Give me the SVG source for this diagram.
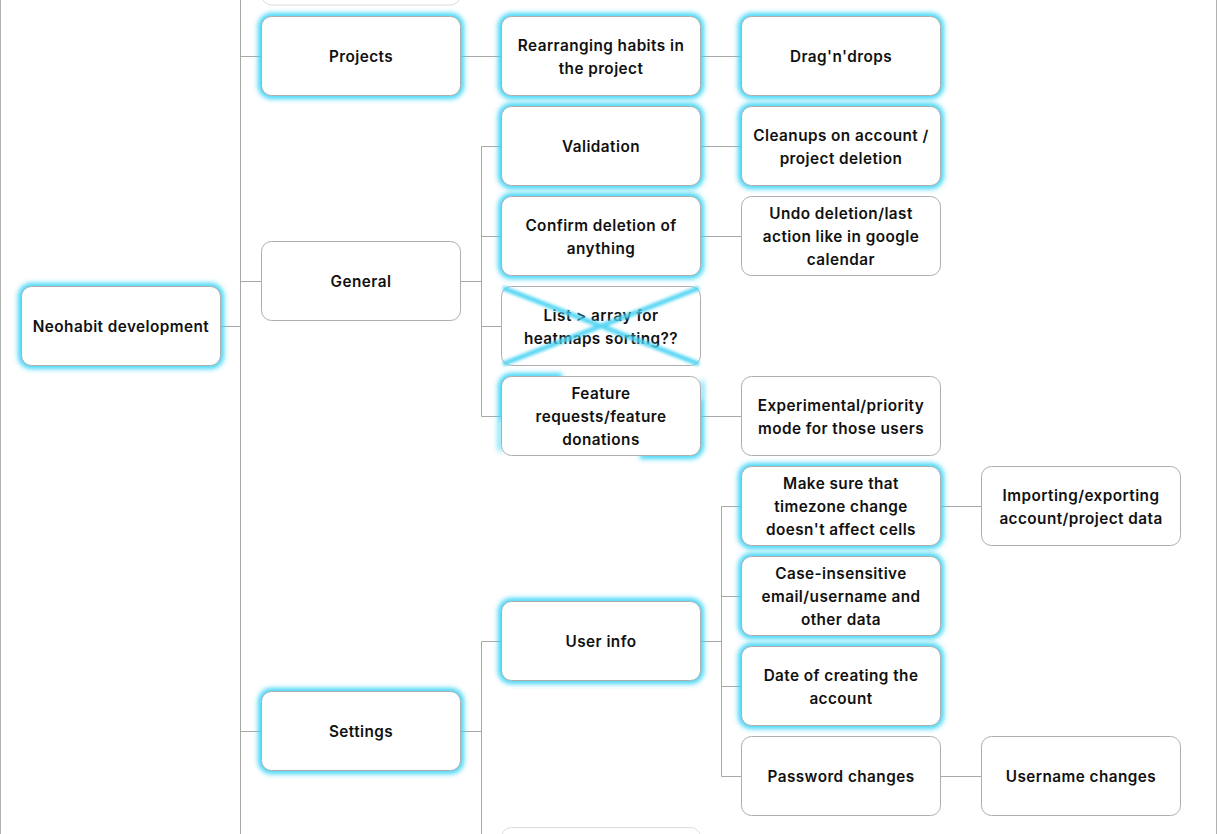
<svg xmlns="http://www.w3.org/2000/svg" width="1218" height="834" viewBox="0 0 1218 834">
<style>
.box{fill:#fff;stroke:#adadad;stroke-width:1}
.glow{fill:none;stroke:#3fd5f6;stroke-width:7;filter:url(#blur)}
.lnk{fill:none;stroke:#a8a8a8;stroke-width:1}
text{font-family:Inter,"Noto Sans","Liberation Sans",sans-serif;font-weight:600;font-size:15.3px;letter-spacing:0.45px;fill:#111;text-anchor:middle}
</style>
<defs>
<filter id="blur" x="-20%" y="-40%" width="140%" height="180%"><feGaussianBlur stdDeviation="2.6"/></filter>
<filter id="blurx" x="-20%" y="-40%" width="140%" height="180%"><feGaussianBlur stdDeviation="1.8"/></filter>
<clipPath id="featClip"><rect x="480" y="360" width="82" height="60"/><rect x="480" y="360" width="21" height="110"/><rect x="640" y="400" width="80" height="70"/><rect x="701" y="360" width="20" height="110"/></clipPath>
</defs>
<rect x="0" y="0" width="1218" height="834" fill="#fff"/>
<line x1="0.5" y1="0" x2="0.5" y2="834" stroke="#b0b0b0"/>
<line x1="1216.5" y1="0" x2="1216.5" y2="834" stroke="#b0b0b0"/>
<g id="connectors">
<path class="lnk" d="M221 326.5H240.5M240.5 0V834M240.5 56.5H261M240.5 281.5H261M240.5 731.5H261"/>
<path class="lnk" d="M461 56.5H501M701 56.5H741"/>
<path class="lnk" d="M461 281.5H481.5M481.5 146.5V416.5M481.5 146.5H501M481.5 236.5H501M481.5 326.5H501M481.5 416.5H501"/>
<path class="lnk" d="M701 146.5H741M701 236.5H741M701 416.5H741"/>
<path class="lnk" d="M461 731.5H481.5M481.5 641.5V834M481.5 641.5H501"/>
<path class="lnk" d="M701 641.5H721.5M721.5 506.5V776.5M721.5 506.5H741M721.5 596.5H741M721.5 686.5H741M721.5 776.5H741"/>
<path class="lnk" d="M941 506.5H981M941 776.5H981"/>
</g>
<g id="top-partial"><rect x="261.5" y="-75" width="199" height="80" rx="10" fill="#fff" stroke="#dcdcdc"/></g>
<g id="root"><rect class="glow" x="21.5" y="286.5" width="199" height="79" rx="10"/><rect class="box" x="21.5" y="286.5" width="199" height="79" rx="10"/><text x="121" y="332">Neohabit development</text></g>
<g id="projects"><rect class="glow" x="261.5" y="16.5" width="199" height="79" rx="10"/><rect class="box" x="261.5" y="16.5" width="199" height="79" rx="10"/><text x="361" y="62">Projects</text></g>
<g id="general"><rect class="box" x="261.5" y="241.5" width="199" height="79" rx="10"/><text x="361" y="287">General</text></g>
<g id="settings"><rect class="glow" x="261.5" y="691.5" width="199" height="79" rx="10"/><rect class="box" x="261.5" y="691.5" width="199" height="79" rx="10"/><text x="361" y="737">Settings</text></g>
<g id="rearranging"><rect class="glow" x="501.5" y="16.5" width="199" height="79" rx="10"/><rect class="box" x="501.5" y="16.5" width="199" height="79" rx="10"/><text x="601" y="50.5">Rearranging habits in</text><text x="601" y="73.5">the project</text></g>
<g id="validation"><rect class="glow" x="501.5" y="106.5" width="199" height="79" rx="10"/><rect class="box" x="501.5" y="106.5" width="199" height="79" rx="10"/><text x="601" y="152">Validation</text></g>
<g id="confirm"><rect class="glow" x="501.5" y="196.5" width="199" height="79" rx="10"/><rect class="box" x="501.5" y="196.5" width="199" height="79" rx="10"/><text x="601" y="230.5">Confirm deletion of</text><text x="601" y="253.5">anything</text></g>
<g id="list"><rect class="box" x="501.5" y="286.5" width="199" height="79" rx="10"/><text x="601" y="320.5">List &gt; array for</text><text x="601" y="343.5">heatmaps sorting??</text><path d="M503 288L699 364M503 364L699 288" stroke="#45d2f3" stroke-width="5" fill="none" filter="url(#blurx)" opacity="0.9"/></g>
<g id="feature"><g filter="url(#blur)"><rect x="501.5" y="376.5" width="199" height="79" rx="10" fill="none" stroke="#3fd5f6" stroke-width="7" clip-path="url(#featClip)"/></g><rect class="box" x="501.5" y="376.5" width="199" height="79" rx="10"/><text x="601" y="399">Feature</text><text x="601" y="422">requests/feature</text><text x="601" y="445">donations</text></g>
<g id="userinfo"><rect class="glow" x="501.5" y="601.5" width="199" height="79" rx="10"/><rect class="box" x="501.5" y="601.5" width="199" height="79" rx="10"/><text x="601" y="647">User info</text></g>
<g id="bottom-partial"><rect x="501.5" y="827.5" width="199" height="80" rx="10" fill="#fff" stroke="#dcdcdc"/></g>
<g id="dragndrops"><rect class="glow" x="741.5" y="16.5" width="199" height="79" rx="10"/><rect class="box" x="741.5" y="16.5" width="199" height="79" rx="10"/><text x="841" y="62">Drag'n'drops</text></g>
<g id="cleanups"><rect class="glow" x="741.5" y="106.5" width="199" height="79" rx="10"/><rect class="box" x="741.5" y="106.5" width="199" height="79" rx="10"/><text x="841" y="140.5">Cleanups on account /</text><text x="841" y="163.5">project deletion</text></g>
<g id="undo"><rect class="box" x="741.5" y="196.5" width="199" height="79" rx="10"/><text x="841" y="219">Undo deletion/last</text><text x="841" y="242">action like in google</text><text x="841" y="265">calendar</text></g>
<g id="experimental"><rect class="box" x="741.5" y="376.5" width="199" height="79" rx="10"/><text x="841" y="410.5">Experimental/priority</text><text x="841" y="433.5">mode for those users</text></g>
<g id="timezone"><rect class="glow" x="741.5" y="466.5" width="199" height="79" rx="10"/><rect class="box" x="741.5" y="466.5" width="199" height="79" rx="10"/><text x="841" y="489">Make sure that</text><text x="841" y="512">timezone change</text><text x="841" y="535">doesn't affect cells</text></g>
<g id="caseinsensitive"><rect class="glow" x="741.5" y="556.5" width="199" height="79" rx="10"/><rect class="box" x="741.5" y="556.5" width="199" height="79" rx="10"/><text x="841" y="579">Case-insensitive</text><text x="841" y="602">email/username and</text><text x="841" y="625">other data</text></g>
<g id="date"><rect class="glow" x="741.5" y="646.5" width="199" height="79" rx="10"/><rect class="box" x="741.5" y="646.5" width="199" height="79" rx="10"/><text x="841" y="680.5">Date of creating the</text><text x="841" y="703.5">account</text></g>
<g id="password"><rect class="box" x="741.5" y="736.5" width="199" height="79" rx="10"/><text x="841" y="782">Password changes</text></g>
<g id="importing"><rect class="box" x="981.5" y="466.5" width="199" height="79" rx="10"/><text x="1081" y="500.5">Importing/exporting</text><text x="1081" y="523.5">account/project data</text></g>
<g id="username"><rect class="box" x="981.5" y="736.5" width="199" height="79" rx="10"/><text x="1081" y="782">Username changes</text></g>
</svg>
